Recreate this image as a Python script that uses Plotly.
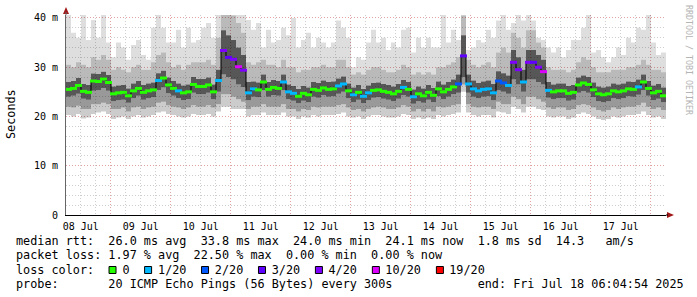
import pandas as pd
import plotly.graph_objects as go

# ---------------- data ----------------
start = "2025-07-08 06:04:54"
end = "2025-07-18 06:04:54"
n_steps = 120
times = pd.date_range(start, periods=n_steps + 1, freq="2h")
mid_times = times[:-1] + pd.Timedelta(hours=1)

median_ms = [
    25.5, 25.7, 26.3, 25.1, 24.9, 27.2, 27.1, 27.6, 26.9, 24.6,
    24.8, 24.9, 24.2, 25.2, 25.7, 24.9, 25.2, 25.4, 27.3, 27.8,
    26.4, 25.7, 25.2, 24.8, 25.0, 26.5, 26.1, 26.1, 26.4, 25.0,
    27.3, 33.4, 32.0, 31.6, 30.1, 29.4, 24.8, 25.6, 25.4, 27.0,
    25.5, 25.9, 25.7, 27.0, 25.0, 24.7, 24.1, 24.7, 24.4, 25.5,
    25.3, 25.8, 25.5, 25.6, 26.2, 26.6, 25.2, 24.4, 24.9, 24.1,
    24.8, 25.3, 25.4, 25.1, 24.9, 24.6, 25.1, 25.9, 25.5, 24.0,
    24.6, 24.2, 24.9, 24.3, 25.6, 25.0, 25.5, 26.0, 26.6, 32.3,
    26.6, 25.6, 25.2, 25.5, 25.6, 24.8, 27.2, 26.8, 26.3, 31.0,
    29.5, 27.0, 31.0, 31.0, 30.0, 29.1, 25.3, 25.0, 25.2, 25.2,
    24.7, 24.9, 26.4, 26.8, 26.5, 25.4, 24.6, 24.4, 24.6, 25.2,
    25.0, 25.2, 25.6, 25.5, 26.0, 27.0, 25.7, 24.8, 25.1, 24.2,
]

loss_of_20 = [
    0, 0, 0, 0, 0, 0, 0, 0, 0, 0,
    0, 0, 0, 0, 0, 0, 0, 0, 1, 0,
    0, 0, 1, 0, 0, 0, 0, 0, 0, 0,
    1, 4, 3, 4, 10, 4, 1, 1, 0, 0,
    0, 0, 0, 1, 1, 1, 0, 0, 0, 0,
    0, 0, 0, 0, 1, 1, 0, 1, 0, 1,
    1, 0, 0, 0, 0, 0, 0, 1, 0, 1,
    0, 0, 0, 0, 0, 0, 0, 0, 2, 3,
    1, 1, 1, 1, 1, 1, 2, 2, 1, 4,
    4, 1, 4, 3, 4, 10, 1, 0, 0, 0,
    0, 0, 0, 0, 0, 0, 0, 0, 0, 0,
    0, 0, 0, 0, 1, 0, 0, 0, 0, 0,
]

smoke_max = [
    41, 37, 36, 41, 35.5, 39.6, 36, 41, 35, 32,
    35, 34, 31.5, 34.5, 35.5, 32.5, 31.5, 38, 41, 38,
    35, 35, 37.6, 34, 38, 35, 35.5, 38, 39, 36,
    41, 41, 41, 41, 41, 41, 39.6, 37.6, 39, 34,
    37.6, 35, 35.5, 38, 36.5, 40, 34, 35.5, 37, 34,
    36, 35, 34, 35, 39.5, 38, 36, 30, 32, 31.5,
    35, 37.6, 35, 36, 33.5, 35, 34, 37.6, 38, 33,
    36, 34, 36, 34, 34, 41, 35, 37.6, 35.5, 41,
    33.5, 34, 35.5, 35, 37.6, 36, 39.5, 41, 37.6, 39,
    41, 39.5, 41, 39.5, 36, 35.5, 34, 33, 34, 32,
    33.5, 35.5, 35.5, 38, 40.6, 33, 33.5, 32, 31, 32,
    34, 32.5, 36, 35, 38, 37.6, 40.6, 35, 32.5, 33,
]

smoke_hi = [
    30.5, 30.0, 31.0, 30.5, 30.0, 32.0, 31.5, 32.5, 31.5, 29.5,
    30.0, 29.5, 29.0, 30.0, 30.5, 29.5, 29.5, 31.0, 32.5, 33.0,
    31.0, 30.0, 30.5, 29.5, 30.5, 31.0, 31.0, 31.0, 31.5, 30.5,
    36.0, 41.0, 41.0, 40.5, 39.0, 37.0, 31.0, 30.5, 31.0, 31.5,
    30.5, 30.5, 30.0, 31.5, 30.0, 30.0, 29.0, 29.5, 29.5, 30.0,
    30.0, 30.5, 30.0, 30.0, 31.5, 31.5, 30.0, 28.5, 29.0, 28.5,
    29.5, 30.0, 30.0, 29.5, 29.0, 29.0, 29.5, 30.5, 30.0, 28.5,
    29.0, 28.5, 29.0, 28.5, 30.0, 30.0, 30.5, 31.0, 32.0, 40.5,
    31.5, 30.5, 30.0, 30.5, 31.0, 30.0, 33.0, 34.0, 33.0, 37.0,
    36.0, 34.0, 37.5, 37.5, 35.0, 34.0, 30.0, 29.5, 29.5, 29.5,
    29.0, 29.5, 31.0, 32.0, 31.5, 30.0, 29.0, 29.0, 29.0, 29.5,
    29.5, 29.5, 30.0, 30.0, 30.5, 31.5, 30.5, 29.5, 29.5, 29.0,
]

smoke_q3 = [
    27.0, 27.2, 27.8, 26.6, 26.4, 28.7, 28.6, 29.1, 28.4, 26.1,
    26.3, 26.4, 25.7, 26.7, 27.2, 26.4, 26.7, 26.9, 28.8, 29.3,
    27.9, 27.2, 26.7, 26.3, 26.5, 28.0, 27.6, 27.6, 27.9, 26.5,
    29.5, 37.5, 36.5, 35.5, 34.0, 32.5, 27.0, 27.1, 26.9, 28.5,
    27.0, 27.4, 27.2, 28.5, 26.5, 26.2, 25.6, 26.2, 25.9, 27.0,
    26.8, 27.3, 27.0, 27.1, 27.7, 28.1, 26.7, 25.9, 26.4, 25.6,
    26.3, 26.8, 26.9, 26.6, 26.4, 26.1, 26.6, 27.4, 27.0, 25.5,
    26.1, 25.7, 26.4, 25.8, 27.1, 26.5, 27.0, 27.5, 28.5, 36.5,
    28.5, 27.3, 26.8, 27.1, 27.3, 26.6, 29.2, 28.8, 28.3, 33.5,
    32.0, 29.5, 33.5, 33.5, 32.5, 31.5, 27.0, 26.5, 26.7, 26.7,
    26.2, 26.4, 27.9, 28.3, 28.0, 26.9, 26.1, 25.9, 26.1, 26.7,
    26.5, 26.7, 27.1, 27.0, 27.5, 28.5, 27.2, 26.3, 26.6, 25.9,
]

smoke_q1 = [
    24.0, 24.2, 24.6, 23.6, 23.4, 25.2, 25.3, 25.8, 25.2, 23.1,
    23.3, 23.4, 22.8, 23.7, 24.2, 23.4, 23.7, 23.9, 25.4, 25.9,
    24.7, 24.2, 23.7, 23.3, 23.5, 24.8, 24.5, 24.5, 24.8, 23.5,
    25.0, 28.5, 28.0, 27.5, 26.5, 26.0, 23.3, 24.0, 23.9, 25.3,
    24.0, 24.3, 24.2, 25.3, 23.5, 23.2, 22.7, 23.2, 22.9, 24.0,
    23.8, 24.3, 24.0, 24.1, 24.6, 25.0, 23.7, 22.9, 23.4, 22.7,
    23.3, 23.8, 23.9, 23.6, 23.4, 23.1, 23.6, 24.3, 24.0, 22.6,
    23.1, 22.8, 23.4, 22.9, 24.1, 23.5, 24.0, 24.5, 24.8, 28.0,
    24.8, 24.0, 23.7, 24.0, 24.1, 23.3, 25.3, 25.0, 24.6, 27.5,
    26.5, 25.0, 27.5, 27.5, 27.0, 26.5, 23.8, 23.5, 23.7, 23.7,
    23.2, 23.4, 24.8, 25.1, 24.8, 23.9, 23.1, 22.9, 23.1, 23.7,
    23.5, 23.7, 24.1, 24.0, 24.4, 25.3, 24.2, 23.3, 23.6, 22.9,
]

smoke_lo = [
    22.0, 21.8, 22.2, 21.5, 21.5, 22.5, 22.5, 22.8, 22.5, 21.5,
    21.5, 21.8, 21.0, 21.8, 22.0, 21.5, 21.8, 22.0, 22.8, 23.0,
    22.3, 22.0, 21.8, 21.5, 21.8, 22.3, 22.0, 22.0, 22.3, 21.8,
    22.5, 24.5, 24.5, 24.0, 23.5, 23.0, 21.5, 22.0, 22.0, 22.5,
    22.0, 22.0, 22.0, 22.5, 21.5, 21.5, 21.0, 21.5, 21.3, 22.0,
    21.8, 22.0, 22.0, 22.0, 22.3, 22.5, 21.8, 21.3, 21.5, 21.0,
    21.5, 21.8, 22.0, 21.8, 21.5, 21.5, 21.8, 22.3, 22.0, 21.0,
    21.5, 21.0, 21.5, 21.0, 22.0, 21.8, 22.0, 22.3, 22.5, 26.5,
    22.5, 22.0, 21.8, 22.0, 22.0, 21.5, 23.0, 22.5, 22.5, 24.0,
    23.5, 22.5, 24.0, 24.0, 23.5, 23.0, 21.8, 21.5, 21.8, 21.8,
    21.3, 21.5, 22.3, 22.5, 22.3, 21.8, 21.3, 21.0, 21.3, 21.8,
    21.5, 21.8, 22.0, 22.0, 22.3, 22.8, 22.0, 21.5, 21.8, 21.3,
]

smoke_min = [
    20.3, 20.0, 20.5, 19.6, 19.8, 20.5, 20.8, 21.0, 20.5, 19.5,
    19.8, 20.0, 19.5, 20.0, 20.3, 19.8, 20.0, 20.3, 20.8, 21.0,
    20.5, 20.3, 20.0, 19.8, 20.0, 20.5, 20.3, 20.3, 20.5, 20.0,
    21.0, 22.0, 22.0, 21.5, 21.5, 21.5, 20.0, 20.3, 20.3, 20.8,
    20.3, 20.3, 20.3, 20.8, 20.0, 20.0, 19.5, 20.0, 19.8, 20.3,
    20.0, 20.3, 20.3, 20.3, 20.5, 20.8, 20.0, 19.8, 20.0, 19.5,
    20.0, 20.3, 20.3, 20.0, 19.8, 19.8, 20.0, 20.5, 20.3, 19.5,
    19.8, 19.5, 19.8, 19.5, 20.3, 20.0, 20.3, 20.5, 20.8, 25.0,
    20.8, 20.3, 20.0, 20.3, 20.3, 19.8, 21.0, 20.8, 20.5, 22.0,
    21.5, 20.8, 22.0, 22.0, 21.5, 21.3, 20.0, 19.8, 20.0, 20.0,
    19.5, 19.8, 20.5, 20.8, 20.5, 20.0, 19.5, 19.3, 19.5, 20.0,
    19.8, 20.0, 20.3, 20.3, 20.5, 21.0, 20.3, 19.8, 20.0, 19.5,
]

loss_levels = [0, 1, 2, 3, 4, 10, 19]
loss_labels = ["0", "1/20", "2/20", "3/20", "4/20", "10/20", "19/20"]
loss_colors = ["#26ff00", "#00b8ff", "#0059ff", "#5e00ff", "#7e00ff", "#dd00ff", "#ff0000"]

y_tick_vals = [0, 10, 20, 30, 40]
y_tick_text = ["0", "10 m", "20 m", "30 m", "40 m"]

legend_lines = [
    "median rtt:  26.0 ms avg  33.8 ms max  24.0 ms min  24.1 ms now  1.8 ms sd  14.3   am/s",
    "packet loss: 1.97 % avg  22.50 % max  0.00 % min  0.00 % now",
    "loss color:    0    1/20    2/20    3/20    4/20    10/20    19/20",
    "probe:       20 ICMP Echo Pings (56 Bytes) every 300s            end: Fri Jul 18 06:04:54 2025",
]
square_char_idx = [13, 18, 26, 34, 42, 50, 59]

# ---------------- figure ----------------
W, H = 697, 297
L, R, T, B = 66, 31, 15, 82
PW, PH = W - L - R, H - T - B


def px(x):
    return (x - L) / PW


def py(y):
    return (H - B - y) / PH


def ext(vals):
    return list(vals) + [vals[-1]]


fig = go.Figure()

band_specs = [
    (smoke_min, None),
    (smoke_lo, "rgba(0,0,0,0.20)"),
    (smoke_q1, "rgba(0,0,0,0.40)"),
    (smoke_q3, "rgba(0,0,0,0.66)"),
    (smoke_hi, "rgba(0,0,0,0.27)"),
    (smoke_max, "rgba(0,0,0,0.13)"),
]
for vals, col in band_specs:
    fig.add_trace(go.Scatter(
        x=times, y=ext(vals), mode="lines", line=dict(width=0, shape="hv"),
        fill=None if col is None else "tonexty", fillcolor=col,
        hoverinfo="skip", showlegend=False,
    ))

fig.add_trace(go.Scatter(
    x=times, y=ext(median_ms), mode="lines",
    line=dict(color="#000000", width=1, shape="hv"),
    hoverinfo="skip", showlegend=False,
))

color_of = dict(zip(loss_levels, loss_colors))
marker_cols = [color_of[v] for v in loss_of_20]
fig.add_trace(go.Scatter(
    x=mid_times, y=median_ms, mode="markers",
    marker=dict(symbol="line-ew", size=5, color=marker_cols,
                line=dict(width=3, color=marker_cols)),
    hoverinfo="skip", showlegend=False,
))

mono = "DejaVu Sans Mono"
grid_major = "#e3a3a3"
grid_minor = "#cfcfcf"
dash = "1px,2px"

fig.update_layout(
    width=W, height=H, autosize=False,
    margin=dict(l=L, r=R, t=T, b=B, pad=0),
    paper_bgcolor="white", plot_bgcolor="white",
    showlegend=False,
    font=dict(family=mono, size=10, color="#000000"),
    xaxis=dict(
        type="date", range=[start, end], tick0="2025-07-08", dtick=86400000,
        tickformat="%d %b", ticklabelmode="period",
        showgrid=True, gridcolor=grid_major, griddash=dash, gridwidth=1,
        minor=dict(dtick=6 * 3600000, tick0="2025-07-08", showgrid=True,
                   gridcolor=grid_minor, griddash=dash, gridwidth=1),
        showline=True, linecolor="#000000", linewidth=1, ticks="",
        zeroline=False, tickfont=dict(family=mono, size=10, color="#000000"),
        ticklabelstandoff=2,
    ),
    yaxis=dict(
        range=[0, 40.6], tickvals=y_tick_vals, ticktext=y_tick_text,
        showgrid=True, gridcolor=grid_major, griddash=dash, gridwidth=1,
        minor=dict(dtick=2, tick0=0, showgrid=True, gridcolor=grid_minor,
                   griddash=dash, gridwidth=1),
        showline=True, linecolor="#666666", linewidth=1, ticks="",
        zeroline=False, tickfont=dict(family=mono, size=10, color="#000000"),
        ticklabelstandoff=5,
    ),
)

annotations = []
line_y = [241, 255, 269.5, 283.5]
for txt, yy in zip(legend_lines, line_y):
    annotations.append(dict(
        x=px(16), y=py(yy), xref="paper", yref="paper", xanchor="left", yanchor="middle",
        text=txt.replace(" ", "\u00a0"), showarrow=False, borderpad=0, borderwidth=0,
        font=dict(family=mono, size=11.8, color="#000000"),
    ))
annotations.append(dict(
    x=px(11), y=py(114), xref="paper", yref="paper", xanchor="center", yanchor="middle",
    text="Seconds", textangle=-90, showarrow=False, borderpad=0,
    font=dict(family=mono, size=11.8, color="#000000"),
))
annotations.append(dict(
    x=px(689), y=py(60), xref="paper", yref="paper", xanchor="center", yanchor="middle",
    text="RRDTOOL / TOBI OETIKER", textangle=90, showarrow=False, borderpad=0,
    font=dict(family=mono, size=8.3, color="#b4b4b4"),
))
fig.update_layout(annotations=annotations)

shapes = []
char_w = 7.117
for idx, col in zip(square_char_idx, loss_colors):
    x0 = 16 + idx * char_w + 0.5
    shapes.append(dict(
        type="rect", xref="paper", yref="paper",
        x0=px(x0), x1=px(x0 + 7), y0=py(273.5), y1=py(266.5),
        fillcolor=col, line=dict(color="#000000", width=1),
    ))
# axis arrows
shapes.append(dict(
    type="path", xref="paper", yref="paper",
    path=f"M {px(63)} {py(14)} L {px(69)} {py(14)} L {px(66)} {py(7)} Z",
    fillcolor="#a01818", line=dict(width=0),
))
shapes.append(dict(
    type="line", xref="paper", yref="paper",
    x0=px(66), x1=px(66), y0=1, y1=py(12),
    line=dict(color="#666666", width=1),
))
shapes.append(dict(
    type="path", xref="paper", yref="paper",
    path=f"M {px(667)} {py(212)} L {px(667)} {py(218)} L {px(674)} {py(215)} Z",
    fillcolor="#a01818", line=dict(width=0),
))
shapes.append(dict(
    type="line", xref="paper", yref="paper",
    x0=1, x1=px(668), y0=0, y1=0,
    line=dict(color="#000000", width=1),
))
fig.update_layout(shapes=shapes)

fig.write_html("out.html")
